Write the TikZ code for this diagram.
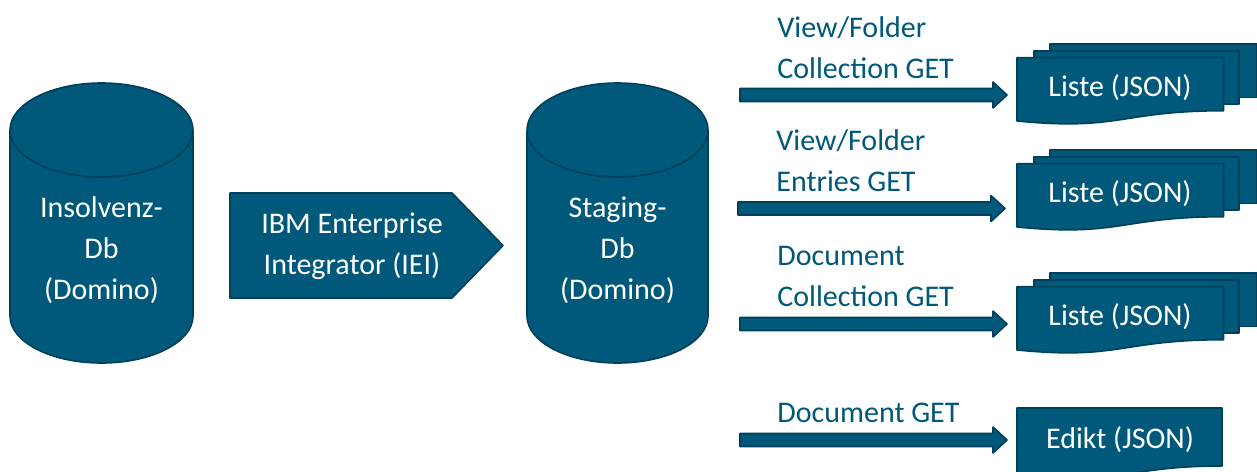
\documentclass[tikz,border=0pt]{standalone}
\usepackage{fontspec}
\setmainfont{Carlito}
\usetikzlibrary{calc}
\definecolor{fillc}{RGB}{0,88,122}
\definecolor{linec}{RGB}{0,64,90}
\definecolor{textc}{RGB}{0,88,122}
\tikzset{
  shapefill/.style={fill=fillc, draw=linec, line width=0.8pt, line join=round},
  edgeline/.style={draw=linec, line width=0.8pt},
  intext/.style={text=white, align=center, inner sep=0pt, font=\fontsize{15pt}{20.5pt}\selectfont},
  lbl/.style={text=textc, align=left, anchor=west, inner sep=0pt, font=\fontsize{15pt}{20.5pt}\selectfont},
}
\newcommand\multidoc[4]{%
  \begin{scope}[shift={(#1,-#2)}, x=1.2pt, y=-0.4pt]
    \path[shapefill] (13.76,0) -- (100,0) -- (100,66.63) -- (13.76,66.63) -- cycle;
    \path[shapefill] (7.09,8.40) -- (92.59,8.40) -- (92.59,75.24) -- (7.09,75.24) -- cycle;
    \path[shapefill] (0,17.01) -- (86.09,17.01) -- (86.09,83.44) .. controls (43.05,83.44) and (43.05,108.99) .. (0,96.21) -- cycle;
  \end{scope}
  \node[intext] (#3) at (#1+103,-#2-44) {#4};}
\newcommand\blockarrow[2]{%
  \path[shapefill] ($(#1)+(0,6.5)$) -- ($(#2)+(-14,6.5)$) -- ($(#2)+(-14,13)$) -- (#2)
    -- ($(#2)+(-14,-13)$) -- ($(#2)+(-14,-6.5)$) -- ($(#1)+(0,-6.5)$) -- cycle;}
\begin{document}
\begin{tikzpicture}[x=0.5pt, y=0.5pt]
\useasboundingbox (0,0) rectangle (1257,-471);
\clip (0,0) rectangle (1257,-471);

% Insolvenz cylinder
\path[shapefill] (10,-130) -- (10,-316) arc[start angle=180, end angle=360, x radius=91.5, y radius=47]
  -- (193,-130) arc[start angle=0, end angle=180, x radius=91.5, y radius=47] -- cycle;
\draw[edgeline] (10,-130) arc[start angle=180, end angle=360, x radius=91.5, y radius=47];
\node[intext] (insolvenz) at (101.5,-250) {Insolvenz-\\Db\\(Domino)};

% IEI pentagon
\path[shapefill] (230,-193) -- (452,-193) -- (503,-245.5) -- (452,-298) -- (230,-298) -- cycle;
\node[intext] (iei) at (352,-246) {IBM Enterprise\\Integrator (IEI)};

% Staging cylinder
\path[shapefill] (527,-130) -- (527,-316) arc[start angle=180, end angle=360, x radius=90.5, y radius=47]
  -- (708,-130) arc[start angle=0, end angle=180, x radius=90.5, y radius=47] -- cycle;
\draw[edgeline] (527,-130) arc[start angle=180, end angle=360, x radius=90.5, y radius=47];
\node[intext] (staging) at (617.5,-250) {Staging-\\Db\\(Domino)};

% Labels
\node[lbl] (l1) at (777,-47.5) {View/Folder\\Collection GET};
\node[lbl] (l2) at (776,-160.5) {View/Folder\\Entries GET};
\node[lbl] (l3) at (777,-276.5) {Document\\Collection GET};
\node[lbl] (l4) at (777,-413) {Document GET};

% Documents
\multidoc{1017}{44}{d1}{Liste (JSON)}
\multidoc{1017}{150}{d2}{Liste (JSON)}
\multidoc{1017}{273}{d3}{Liste (JSON)}
\path[shapefill] (1017,-408) -- (1222,-408) -- (1222,-466) .. controls (1119.5,-466) and (1119.5,-488) .. (1017,-475) -- cycle;
\node[intext] (d4) at (1120,-440) {Edikt (JSON)};

% Arrows
\coordinate (a1s) at (740,-95);   \coordinate (a1e) at (1007,-95);
\coordinate (a2s) at (738,-208.5); \coordinate (a2e) at (1005,-208.5);
\coordinate (a3s) at (740,-324);  \coordinate (a3e) at (1007,-324);
\coordinate (a4s) at (740,-440);  \coordinate (a4e) at (1007,-440);
\blockarrow{a1s}{a1e}
\blockarrow{a2s}{a2e}
\blockarrow{a3s}{a3e}
\blockarrow{a4s}{a4e}
\end{tikzpicture}
\end{document}
